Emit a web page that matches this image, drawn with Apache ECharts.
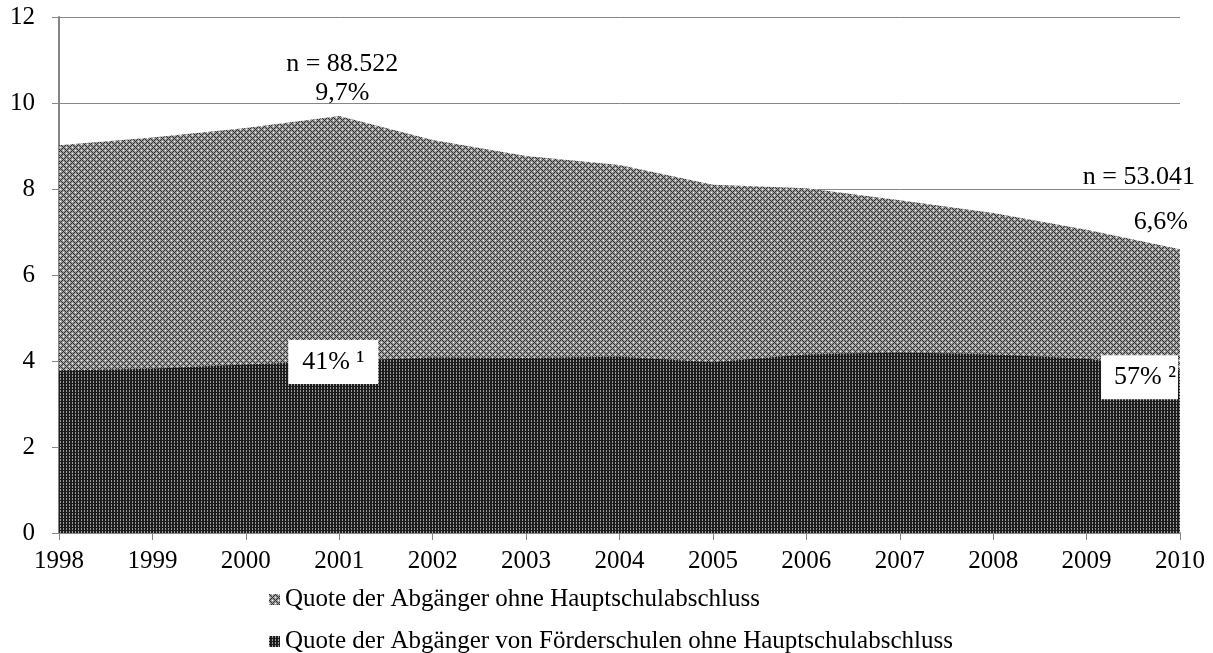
<!DOCTYPE html>
<html>
<head>
<meta charset="utf-8">
<script src="https://cdn.jsdelivr.net/npm/echarts@6/dist/echarts.min.js"></script>
<style>
  html, body { margin: 0; padding: 0; background: #fff; }
  #chart { width: 1213px; height: 653px; }
</style>
</head>
<body>
<div id="chart"></div>
<script>
// Jahre und Quoten (in %)
const years = ['1998', '1999', '2000', '2001', '2002', '2003', '2004', '2005', '2006', '2007', '2008', '2009', '2010'];
const quoteGesamt = [9.02, 9.2, 9.42, 9.7, 9.14, 8.77, 8.56, 8.1, 8.02, 7.74, 7.44, 7.05, 6.6];
const quoteFoerder = [3.78, 3.82, 3.92, 4.0, 4.08, 4.07, 4.1, 3.97, 4.15, 4.2, 4.15, 4.05, 3.76];
const seriesNames = ['Quote der Abgänger ohne Hauptschulabschluss', 'Quote der Abgänger von Förderschulen ohne Hauptschulabschluss'];
const yTicks = [0, 2, 4, 6, 8, 10, 12];

// Beschriftungen (Index im Jahr-Array -> Text)
const gesamtNotes = { 3: ['n = 88.522', '9,7%'], 12: ['n = 53.041', '6,6%'] };
const foerderNotes = { 3: '41% \u00b9', 12: '57% \u00b2' };

const FONT = '"Liberation Serif", "Times New Roman", serif';

// kleine Pixelmuster wie im Original (Schraffur)
function makeTile(rows, colors) {
  const c = document.createElement('canvas');
  c.width = rows[0].length;
  c.height = rows.length;
  const ctx = c.getContext('2d');
  rows.forEach((r, y) => {
    [...r].forEach((ch, x) => {
      ctx.fillStyle = colors[ch];
      ctx.fillRect(x, y, 1, 1);
    });
  });
  return c;
}

const lightTile = makeTile([
  'kggwgg',
  'gkgggk',
  'ggkgkg',
  'wggkgg',
  'ggkgkg',
  'gkgggk'
], { k: '#2e2e2e', g: '#9c9c9c', w: '#ffffff' });

const darkTile = makeTile([
  'gkk',
  'gkk',
  'kkk'
], { k: '#1c1c1c', g: '#9a9a9a' });

const lightPattern = { image: lightTile, repeat: 'repeat' };
const darkPattern = { image: darkTile, repeat: 'repeat' };

const gesamtData = quoteGesamt.map((v, i) => {
  if (i === 3) {
    return {
      value: v,
      label: {
        show: true, position: 'top', distance: 8, offset: [3, 0],
        formatter: '{n|' + gesamtNotes[3][0] + '}\n{p|' + gesamtNotes[3][1] + '}',
        rich: { n: { lineHeight: 29 }, p: { lineHeight: 29 } }
      }
    };
  }
  if (i === 12) {
    return {
      value: v,
      label: {
        show: true, position: 'top', distance: 12, align: 'right', offset: [15, 0],
        formatter: '{n|' + gesamtNotes[12][0] + '}\n{p|' + gesamtNotes[12][1] + '}',
        rich: { n: { lineHeight: 60 }, p: { lineHeight: 30, padding: [0, 7, 0, 0] } }
      }
    };
  }
  return v;
});

const foerderData = quoteFoerder.map((v, i) => {
  if (i === 3) {
    return {
      value: v,
      label: {
        show: true, position: 'inside', offset: [-6, 1],
        backgroundColor: '#fff', padding: [9, 14],
        formatter: foerderNotes[3]
      }
    };
  }
  if (i === 12) {
    return {
      value: v,
      label: {
        show: true, position: 'left', distance: 2, offset: [0, 6],
        backgroundColor: '#fff', padding: [9, 2, 9, 13],
        formatter: foerderNotes[12]
      }
    };
  }
  return v;
});

const chart = echarts.init(document.getElementById('chart'));

const labelStyle = { fontFamily: FONT, fontSize: 26, color: '#000' };
const legendBase = {
  orient: 'vertical',
  left: 264,
  itemWidth: 11,
  itemHeight: 11,
  icon: 'rect',
  textStyle: { fontFamily: FONT, fontSize: 25, color: '#000' }
};

chart.setOption({
  animation: false,
  backgroundColor: '#fff',
  textStyle: { fontFamily: FONT },
  grid: { left: 59, right: 33, top: 17, bottom: 120 },
  legend: [
    Object.assign({}, legendBase, {
      top: 582,
      data: [{ name: seriesNames[0], itemStyle: { color: lightPattern } }]
    }),
    Object.assign({}, legendBase, {
      top: 624,
      data: [{ name: seriesNames[1], itemStyle: { color: darkPattern } }]
    })
  ],
  xAxis: {
    type: 'category',
    data: years,
    boundaryGap: false,
    axisLine: { lineStyle: { color: '#868686', width: 2 } },
    axisTick: { show: true, length: 7, interval: 0, lineStyle: { color: '#868686' } },
    axisLabel: { interval: 0, margin: 16, fontFamily: FONT, fontSize: 25, color: '#000' }
  },
  yAxis: {
    type: 'value',
    min: yTicks[0],
    max: yTicks[yTicks.length - 1],
    interval: 2,
    axisLine: { show: true, lineStyle: { color: '#868686', width: 2 } },
    axisTick: { show: true, length: 7, lineStyle: { color: '#868686' } },
    axisLabel: { margin: 24, fontFamily: FONT, fontSize: 25, color: '#000' },
    splitLine: { lineStyle: { color: '#868686', width: 1 } }
  },
  series: [
    {
      name: seriesNames[0],
      type: 'line',
      data: gesamtData,
      showSymbol: true,
      symbolSize: 0,
      lineStyle: { width: 0 },
      itemStyle: { color: lightPattern },
      areaStyle: { color: lightPattern, opacity: 1 },
      label: labelStyle,
      emphasis: { disabled: true },
      z: 2
    },
    {
      name: seriesNames[1],
      type: 'line',
      data: foerderData,
      showSymbol: true,
      symbolSize: 0,
      lineStyle: { width: 0 },
      itemStyle: { color: darkPattern },
      areaStyle: { color: darkPattern, opacity: 1 },
      label: labelStyle,
      emphasis: { disabled: true },
      z: 3
    }
  ]
});
</script>
</body>
</html>
